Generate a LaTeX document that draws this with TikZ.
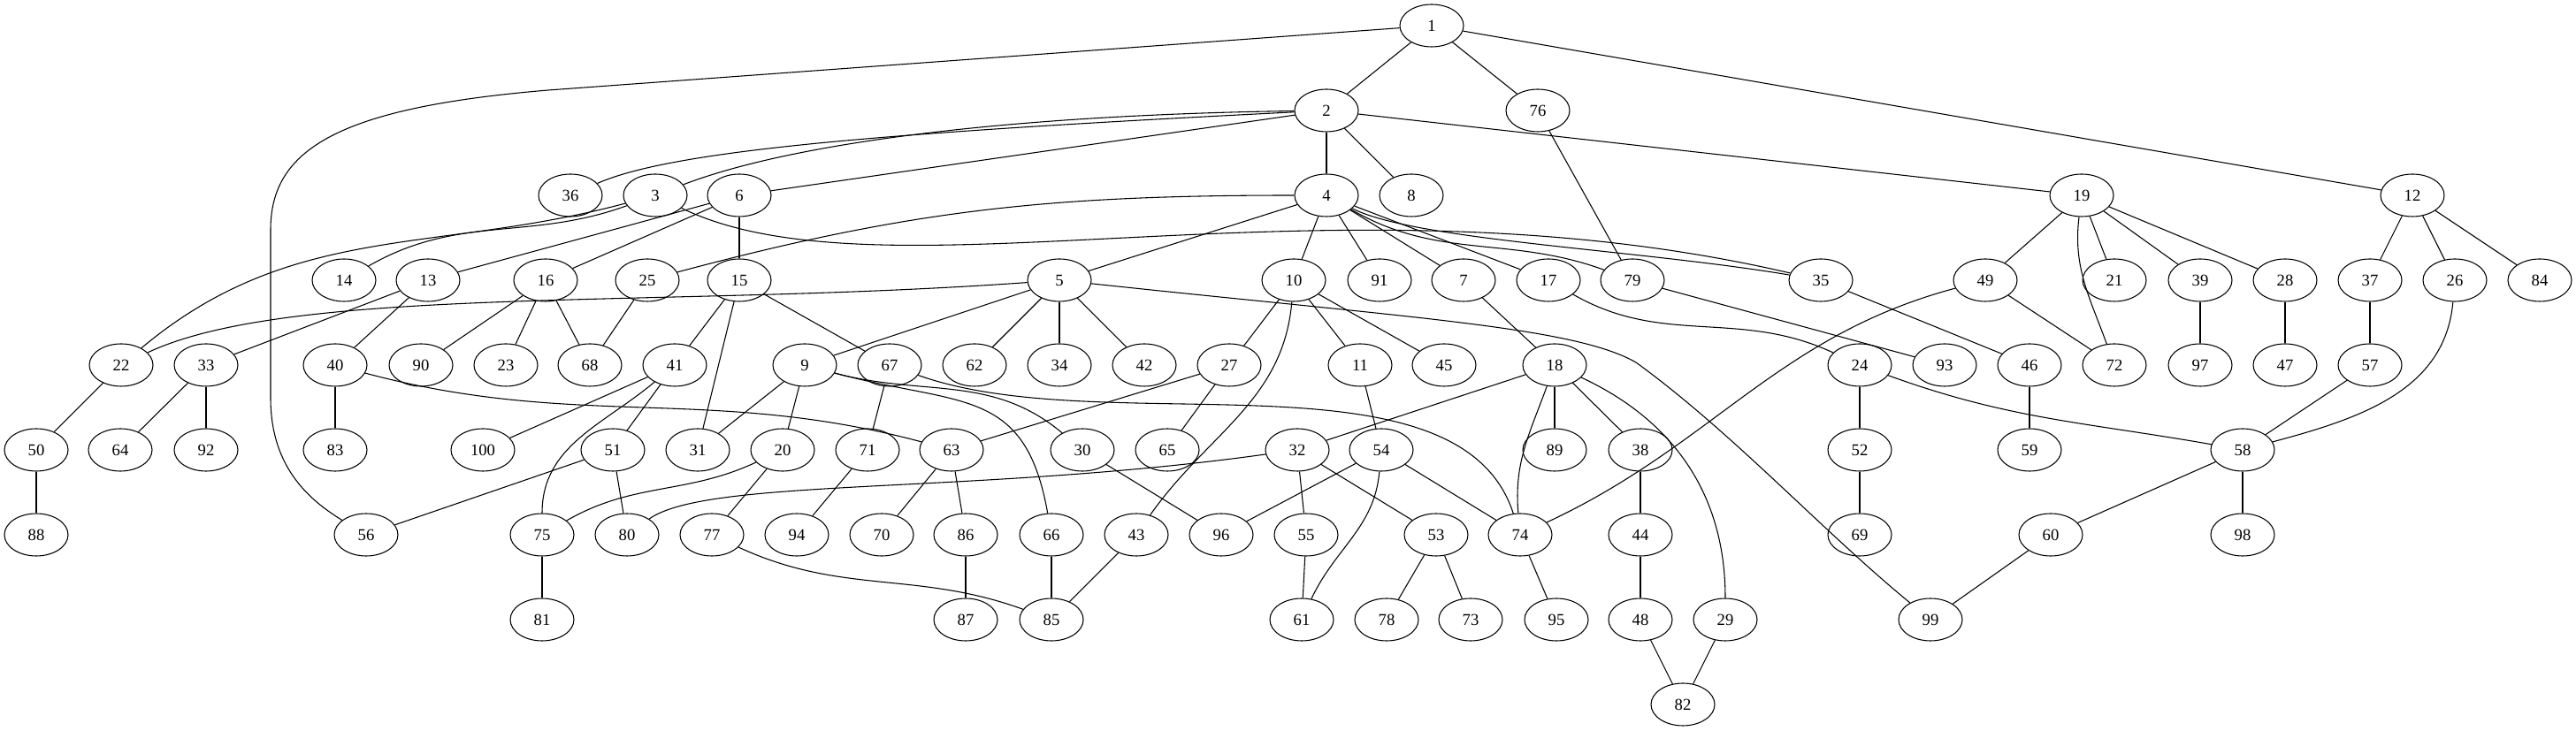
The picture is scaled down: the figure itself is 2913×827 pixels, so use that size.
\documentclass[tikz,border=0pt]{standalone}
\usepackage{fontspec}
\setmainfont{Liberation Serif}
\usetikzlibrary{shapes.geometric}

\begin{document}
\begin{tikzpicture}[x=0.75pt,y=0.75pt]
    		\newcommand{\nodew}{54pt} % horizontal span of the ellipses
    		\newcommand{\nodeh}{36pt} % vertical span of the ellipses
    		\newcommand{\lw}{0.8pt} % width of the lines

    		% set the style of the vertices and links
    		\tikzset{
    			vertex/.style={
    				ellipse,
    				draw,
    				line width=\lw,
    				minimum width=\nodew,
    				minimum height=\nodeh,
    				inner sep=0pt,
    				font=\fontsize{14}{16}\selectfont
    				},
    			link/.style={
    				line width=\lw
    				}
    		}

    		\useasboundingbox (0,0) rectangle (2913,827);

    		% vertices, rank 1 to 3
			\node[vertex] (n1) at (1619,798) {1};
			\node[vertex] (n2) at (1500,702) {2};
			\node[vertex] (n76) at (1739,702) {76};
			\node[vertex] (n36) at (645,606) {36};
			\node[vertex] (n3) at (741,606) {3};
			\node[vertex] (n6) at (836,606) {6};
			\node[vertex] (n4) at (1500,606) {4};
			\node[vertex] (n8) at (1596,606) {8};
			\node[vertex] (n19) at (2354,606) {19};
			\node[vertex] (n12) at (2728,606) {12};

    		% vertices, rank 4
			\node[vertex] (n14) at (389,510) {14};
			\node[vertex] (n13) at (484,510) {13};
			\node[vertex] (n16) at (617,510) {16};
			\node[vertex] (n25) at (732,510) {25};
			\node[vertex] (n15) at (836,510) {15};
			\node[vertex] (n5) at (1198,510) {5};
			\node[vertex] (n10) at (1463,510) {10};
			\node[vertex] (n91) at (1560,510) {91};
			\node[vertex] (n7) at (1655,510) {7};
			\node[vertex] (n17) at (1751,510) {17};
			\node[vertex] (n79) at (1846,510) {79};
			\node[vertex] (n35) at (2059,510) {35};
			\node[vertex] (n49) at (2245,510) {49};
			\node[vertex] (n21) at (2391,510) {21};
			\node[vertex] (n39) at (2488,510) {39};
			\node[vertex] (n28) at (2584,510) {28};
			\node[vertex] (n37) at (2680,510) {37};
			\node[vertex] (n26) at (2776,510) {26};
			\node[vertex] (n84) at (2872,510) {84};

    		% vertices, rank 5
			\node[vertex] (n22) at (137,414) {22};
			\node[vertex] (n33) at (233,414) {33};
			\node[vertex] (n40) at (379,414) {40};
			\node[vertex] (n90) at (476,414) {90};
			\node[vertex] (n23) at (572,414) {23};
			\node[vertex] (n68) at (667,414) {68};
			\node[vertex] (n41) at (763,414) {41};
			\node[vertex] (n9) at (910,414) {9};
			\node[vertex] (n67) at (1006,414) {67};
			\node[vertex] (n62) at (1102,414) {62};
			\node[vertex] (n34) at (1198,414) {34};
			\node[vertex] (n42) at (1294,414) {42};
			\node[vertex] (n27) at (1390,414) {27};
			\node[vertex] (n11) at (1538,414) {11};
			\node[vertex] (n45) at (1633,414) {45};
			\node[vertex] (n18) at (1758,414) {18};
			\node[vertex] (n24) at (2103,414) {24};
			\node[vertex] (n93) at (2199,414) {93};
			\node[vertex] (n46) at (2295,414) {46};
			\node[vertex] (n72) at (2391,414) {72};
			\node[vertex] (n97) at (2488,414) {97};
			\node[vertex] (n47) at (2584,414) {47};
			\node[vertex] (n57) at (2680,414) {57};

    		% vertices, rank 6
			\node[vertex] (n50) at (41,318) {50};
			\node[vertex] (n64) at (136,318) {64};
			\node[vertex] (n92) at (233,318) {92};
			\node[vertex] (n83) at (379,318) {83};
			\node[vertex] (n100) at (546,318) {100};
			\node[vertex] (n51) at (693,318) {51};
			\node[vertex] (n31) at (789,318) {31};
			\node[vertex] (n20) at (885,318) {20};
			\node[vertex] (n71) at (981,318) {71};
			\node[vertex] (n63) at (1076,318) {63};
			\node[vertex] (n30) at (1224,318) {30};
			\node[vertex] (n65) at (1320,318) {65};
			\node[vertex] (n32) at (1467,318) {32};
			\node[vertex] (n54) at (1562,318) {54};
			\node[vertex] (n89) at (1758,318) {89};
			\node[vertex] (n38) at (1855,318) {38};
			\node[vertex] (n52) at (2103,318) {52};
			\node[vertex] (n59) at (2295,318) {59};
			\node[vertex] (n58) at (2536,318) {58};

    		% vertices, rank 7
			\node[vertex] (n88) at (41,222) {88};
			\node[vertex] (n56) at (414,222) {56};
			\node[vertex] (n75) at (613,222) {75};
			\node[vertex] (n80) at (709,222) {80};
			\node[vertex] (n77) at (805,222) {77};
			\node[vertex] (n94) at (901,222) {94};
			\node[vertex] (n70) at (997,222) {70};
			\node[vertex] (n86) at (1092,222) {86};
			\node[vertex] (n66) at (1189,222) {66};
			\node[vertex] (n43) at (1285,222) {43};
			\node[vertex] (n96) at (1381,222) {96};
			\node[vertex] (n55) at (1477,222) {55};
			\node[vertex] (n53) at (1624,222) {53};
			\node[vertex] (n74) at (1719,222) {74};
			\node[vertex] (n44) at (1855,222) {44};
			\node[vertex] (n69) at (2103,222) {69};
			\node[vertex] (n60) at (2319,222) {60};
			\node[vertex] (n98) at (2536,222) {98};

    		% vertices, rank 8 and 9
			\node[vertex] (n81) at (613,126) {81};
			\node[vertex] (n87) at (1092,126) {87};
			\node[vertex] (n85) at (1189,126) {85};
			\node[vertex] (n61) at (1472,126) {61};
			\node[vertex] (n78) at (1568,126) {78};
			\node[vertex] (n73) at (1663,126) {73};
			\node[vertex] (n95) at (1760,126) {95};
			\node[vertex] (n48) at (1855,126) {48};
			\node[vertex] (n29) at (1951,126) {29};
			\node[vertex] (n99) at (2183,126) {99};
			\node[vertex] (n82) at (1903,30) {82};

    		% links, straight
			\draw[link] (n1) -- (n2);
			\draw[link] (n1) -- (n76);
			\draw[link] (n1) -- (n12);
			\draw[link] (n2) -- (n6);
			\draw[link] (n2) -- (n4);
			\draw[link] (n2) -- (n8);
			\draw[link] (n2) -- (n19);
			\draw[link] (n76) -- (n79);
			\draw[link] (n6) -- (n13);
			\draw[link] (n6) -- (n16);
			\draw[link] (n6) -- (n15);
			\draw[link] (n4) -- (n5);
			\draw[link] (n4) -- (n10);
			\draw[link] (n4) -- (n91);
			\draw[link] (n4) -- (n7);
			\draw[link] (n4) -- (n17);
			\draw[link] (n19) -- (n49);
			\draw[link] (n19) -- (n21);
			\draw[link] (n19) -- (n39);
			\draw[link] (n19) -- (n28);
			\draw[link] (n12) -- (n37);
			\draw[link] (n12) -- (n26);
			\draw[link] (n12) -- (n84);
			\draw[link] (n13) -- (n33);
			\draw[link] (n13) -- (n40);
			\draw[link] (n16) -- (n90);
			\draw[link] (n16) -- (n23);
			\draw[link] (n16) -- (n68);
			\draw[link] (n25) -- (n68);
			\draw[link] (n15) -- (n41);
			\draw[link] (n15) -- (n31);
			\draw[link] (n15) -- (n67);
			\draw[link] (n5) -- (n9);
			\draw[link] (n5) -- (n62);
			\draw[link] (n5) -- (n34);
			\draw[link] (n5) -- (n42);
			\draw[link] (n10) -- (n27);
			\draw[link] (n10) -- (n11);
			\draw[link] (n10) -- (n45);
			\draw[link] (n7) -- (n18);
			\draw[link] (n79) -- (n93);
			\draw[link] (n35) -- (n46);
			\draw[link] (n49) -- (n72);
			\draw[link] (n39) -- (n97);
			\draw[link] (n28) -- (n47);
			\draw[link] (n37) -- (n57);
			\draw[link] (n22) -- (n50);
			\draw[link] (n33) -- (n64);
			\draw[link] (n33) -- (n92);
			\draw[link] (n40) -- (n83);
			\draw[link] (n41) -- (n100);
			\draw[link] (n41) -- (n51);
			\draw[link] (n9) -- (n31);
			\draw[link] (n9) -- (n20);
			\draw[link] (n67) -- (n71);
			\draw[link] (n27) -- (n63);
			\draw[link] (n27) -- (n65);
			\draw[link] (n11) -- (n54);
			\draw[link] (n18) -- (n32);
			\draw[link] (n18) -- (n89);
			\draw[link] (n18) -- (n38);
			\draw[link] (n24) -- (n52);
			\draw[link] (n46) -- (n59);
			\draw[link] (n57) -- (n58);
			\draw[link] (n50) -- (n88);
			\draw[link] (n51) -- (n56);
			\draw[link] (n51) -- (n80);
			\draw[link] (n20) -- (n77);
			\draw[link] (n71) -- (n94);
			\draw[link] (n63) -- (n70);
			\draw[link] (n63) -- (n86);
			\draw[link] (n30) -- (n96);
			\draw[link] (n32) -- (n55);
			\draw[link] (n32) -- (n53);
			\draw[link] (n54) -- (n96);
			\draw[link] (n54) -- (n74);
			\draw[link] (n38) -- (n44);
			\draw[link] (n52) -- (n69);
			\draw[link] (n58) -- (n60);
			\draw[link] (n58) -- (n98);
			\draw[link] (n75) -- (n81);
			\draw[link] (n86) -- (n87);
			\draw[link] (n66) -- (n85);
			\draw[link] (n43) -- (n85);
			\draw[link] (n55) -- (n61);
			\draw[link] (n53) -- (n78);
			\draw[link] (n53) -- (n73);
			\draw[link] (n74) -- (n95);
			\draw[link] (n44) -- (n48);
			\draw[link] (n60) -- (n99);
			\draw[link] (n48) -- (n82);
			\draw[link] (n29) -- (n82);

    		% links, bent
			\draw[link] (n1) -- (620,725) .. controls (380,705) and (306,657) .. (306,567) -- (306,377) .. controls (306,307) and (340,267) .. (n56);
			\draw[link] (n2) .. controls (1000,677) and (760,657) .. (n36);
			\draw[link] (n2) .. controls (1150,697) and (900,667) .. (n3);
			\draw[link] (n3) to[out=200, in=30] (n14);
			\draw[link] (n3) to[out=195, in=40] (n22);
			\draw[link] (n3) .. controls (1000,480) and (1500,640) .. (n35);
			\draw[link] (n4) to[out=180, in=15] (n25);
			\draw[link] (n4) to[out=-30, in=160] (n79);
			\draw[link] (n4) .. controls (1600,555) and (1850,545) .. (n35);
			\draw[link] (n19) to[out=-97, in=110] (n72);
			\draw[link] (n26) to[out=-95, in=15] (n58);
			\draw[link] (n5) .. controls (750,478) and (330,505) .. (n22);
			\draw[link] (n5) .. controls (1600,467) and (1780,457) .. (1850,417) .. controls (1960,337) and (2060,227) .. (n99);
			\draw[link] (n10) to[out=-95, in=55] (n43);
			\draw[link] (n17) to[out=-30, in=155] (n24);
			\draw[link] (n49) to[out=195, in=25] (n74);
			\draw[link] (n40) to[out=-15, in=165] (n63);
			\draw[link] (n41) to[out=-140, in=90] (n75);
			\draw[link] (n9) to[out=-15, in=140] (n30);
			\draw[link] (n9) to[out=-15, in=100, looseness=1.3] (n66);
			\draw[link] (n67) .. controls (1250,327) and (1650,437) .. (n74);
			\draw[link] (n18) to[out=-110, in=95] (n74);
			\draw[link] (n18) to[out=-25, in=90] (n29);
			\draw[link] (n24) to[out=-20, in=170] (n58);
			\draw[link] (n20) to[out=205, in=30] (n75);
			\draw[link] (n32) .. controls (1100,267) and (800,287) .. (n80);
			\draw[link] (n54) to[out=-95, in=65] (n61);
			\draw[link] (n77) to[out=-25, in=160] (n85);

		\end{tikzpicture}
\end{document}
